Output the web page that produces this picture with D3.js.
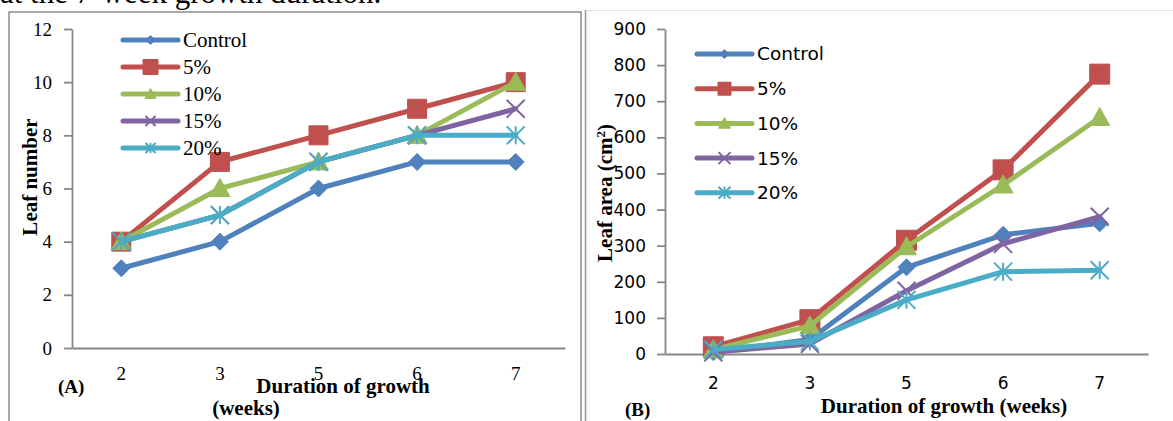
<!DOCTYPE html>
<html>
<head>
<meta charset="utf-8">
<script src="https://cdn.jsdelivr.net/npm/d3@7/dist/d3.min.js"></script>
<style>
  body { margin: 0; background: #fff; }
  svg { display: block; }
</style>
</head>
<body>
<div id="chart"></div>
<script>
// weeks of growth (category axis)
var weeks = ['2', '3', '5', '6', '7']
var seriesNames = ['Control', '5%', '10%', '15%', '20%']

// (A) leaf number
var leafNumControl = [3, 4, 6, 7, 7]
var leafNum5 = [4, 7, 8, 9, 10]
var leafNum10 = [4, 6, 7, 8, 10]
var leafNum15 = [4, 5, 7, 8, 9]
var leafNum20 = [4, 5, 7, 8, 8]
var leafNumTicks = [0, 2, 4, 6, 8, 10, 12]

// (B) leaf area (cm2)
var leafAreaControl = [5, 40, 240, 330, 362]
var leafArea5 = [20, 95, 315, 510, 775]
var leafArea10 = [12, 78, 297, 468, 655]
var leafArea15 = [5, 28, 175, 305, 380]
var leafArea20 = [12, 35, 150, 228, 232]
var leafAreaTicks = [0, 100, 200, 300, 400, 500, 600, 700, 800, 900]

var seriesColors = ['#4F81BD', '#C0504D', '#9BBB59', '#8064A2', '#4BACC6']
var markerTypes = ['diamond', 'square', 'triangle', 'x', 'star']

var W = 1173, H = 421
var serif = '"Liberation Serif", "Times New Roman", serif'
var sans = '"DejaVu Sans", sans-serif'
var axisColor = '#868686'

var svg = d3.select('#chart').append('svg')
  .attr('width', W).attr('height', H)

// caption text cut off at top of the page
svg.append('text')
  .attr('x', 0).attr('y', 3)
  .attr('font-family', serif).attr('font-size', 31)
  .text('at the 7-week growth duration.')

// panel frames
svg.append('path')
  .attr('d', 'M9,' + H + 'V12H581V' + H)
  .attr('fill', 'none').attr('stroke', '#8c8c8c').attr('stroke-width', 1.5)
svg.append('line')
  .attr('x1', 585.5).attr('x2', W).attr('y1', 10.5).attr('y2', 10.5)
  .attr('stroke', '#e4e4e4')
svg.append('line')
  .attr('x1', 585.5).attr('x2', 585.5).attr('y1', 10).attr('y2', H)
  .attr('stroke', '#999').attr('stroke-width', 1.5)

function markerPath(type, s) {
  if (type === 'diamond') return 'M0,' + -s + 'L' + s + ',0L0,' + s + 'L' + -s + ',0Z'
  if (type === 'square') return 'M' + -s + ',' + -s + 'H' + s + 'V' + s + 'H' + -s + 'Z'
  if (type === 'triangle') return 'M0,' + -s + 'L' + s + ',' + s * 0.8 + 'L' + -s + ',' + s * 0.8 + 'Z'
  var p = 'M' + -s + ',' + -s + 'L' + s + ',' + s + 'M' + -s + ',' + s + 'L' + s + ',' + -s
  if (type === 'star') p += 'M0,' + -s + 'V' + s
  return p
}

function addMarker(g, type, s, color) {
  var open = type === 'x' || type === 'star'
  g.append('path')
    .attr('d', markerPath(type, s))
    .attr('fill', open ? 'none' : color)
    .attr('stroke', color)
    .attr('stroke-width', open ? 2 : 1)
}

function drawPanel(p) {
  var x = d3.scaleBand().domain(weeks).range([p.left, p.right])
  var y = d3.scaleLinear().domain([0, p.yMax]).range([p.bottom, p.top])
  var g = svg.append('g')

  var yAxis = g.append('g')
    .attr('transform', 'translate(' + p.left + ',0)')
    .call(d3.axisLeft(y).tickValues(p.ticks).tickSize(8).tickSizeOuter(0).tickPadding(p.yPad))
  var xAxis = g.append('g')
    .attr('transform', 'translate(0,' + p.bottom + ')')
    .call(d3.axisBottom(x).tickSize(0).tickSizeOuter(0).tickPadding(p.xPad))

  ;[yAxis, xAxis].forEach(function (a) {
    a.selectAll('path, line').attr('stroke', axisColor).attr('stroke-width', 1.8)
    a.selectAll('text').attr('font-family', p.tickFont).attr('font-size', p.tickSize)
      .attr('fill', '#000')
  })

  var line = d3.line()
    .x(function (d, i) { return x(weeks[i]) + x.bandwidth() / 2 })
    .y(function (d) { return y(d) })

  p.series.forEach(function (vals, k) {
    var s = g.append('g')
    s.append('path')
      .datum(vals)
      .attr('d', line)
      .attr('fill', 'none')
      .attr('stroke', seriesColors[k])
      .attr('stroke-width', 5)
      .attr('stroke-linejoin', 'round')
      .attr('stroke-linecap', 'round')
    vals.forEach(function (v, i) {
      var m = s.append('g')
        .attr('transform', 'translate(' + (x(weeks[i]) + x.bandwidth() / 2) + ',' + y(v) + ')')
      addMarker(m, markerTypes[k], p.markerSizes[k], seriesColors[k])
    })
  })

  // legend
  var leg = g.append('g')
  seriesNames.forEach(function (name, k) {
    var ly = p.legY + k * p.legStep
    leg.append('line')
      .attr('x1', p.legX).attr('x2', p.legX + 55)
      .attr('y1', ly).attr('y2', ly)
      .attr('stroke', seriesColors[k]).attr('stroke-width', 5)
      .attr('stroke-linecap', 'round')
    var m = leg.append('g').attr('transform', 'translate(' + (p.legX + 27.5) + ',' + ly + ')')
    addMarker(m, markerTypes[k], p.legMarkerSizes[k], seriesColors[k])
    leg.append('text')
      .attr('x', p.legX + 60).attr('y', ly)
      .attr('dy', '0.35em')
      .attr('font-family', p.legFont).attr('font-size', p.legSize)
      .text(name)
  })

  return { x: x, y: y, g: g }
}

var panelA = drawPanel({
  left: 72, right: 565, top: 29, bottom: 348,
  yMax: 12, ticks: leafNumTicks,
  series: [leafNumControl, leafNum5, leafNum10, leafNum15, leafNum20],
  yPad: 12, xPad: 19, tickFont: serif, tickSize: 19,
  markerSizes: [8.5, 9.5, 10, 9, 9],
  legX: 123, legY: 40, legStep: 27, legFont: serif, legSize: 21,
  legMarkerSizes: [4.5, 7.5, 5.5, 5, 5]
})

var panelB = drawPanel({
  left: 665, right: 1148, top: 29, bottom: 354,
  yMax: 900, ticks: leafAreaTicks,
  series: [leafAreaControl, leafArea5, leafArea10, leafArea15, leafArea20],
  yPad: 11, xPad: 23, tickFont: sans, tickSize: 17,
  markerSizes: [8.5, 10, 10, 9, 9],
  legX: 697, legY: 54, legStep: 34.7, legFont: sans, legSize: 18.5,
  legMarkerSizes: [4.5, 6.5, 6, 6, 6]
})

function title(txt, x, y, size, anchor, rot) {
  var t = svg.append('text')
    .attr('font-family', serif).attr('font-weight', 'bold')
    .attr('font-size', size).attr('text-anchor', anchor)
    .attr('transform', 'translate(' + x + ',' + y + ')' + (rot ? ' rotate(-90)' : ''))
  t.text(txt)
  return t
}

// (A) titles
title('Leaf number', 37, 177, 21, 'middle', true)
title('Duration of growth', 343, 393, 21, 'middle')
title('(weeks)', 246, 415, 21, 'middle')
title('(A)', 58, 393, 19, 'start')

// (B) titles
var yb = title('Leaf area (cm', 612, 193, 21, 'middle', true)
yb.append('tspan').attr('font-size', 13).attr('baseline-shift', 'super').text('2')
yb.append('tspan').text(')')
title('Duration of growth (weeks)', 944, 413, 21, 'middle')
title('(B)', 625, 416, 19, 'start')
</script>
</body>
</html>
